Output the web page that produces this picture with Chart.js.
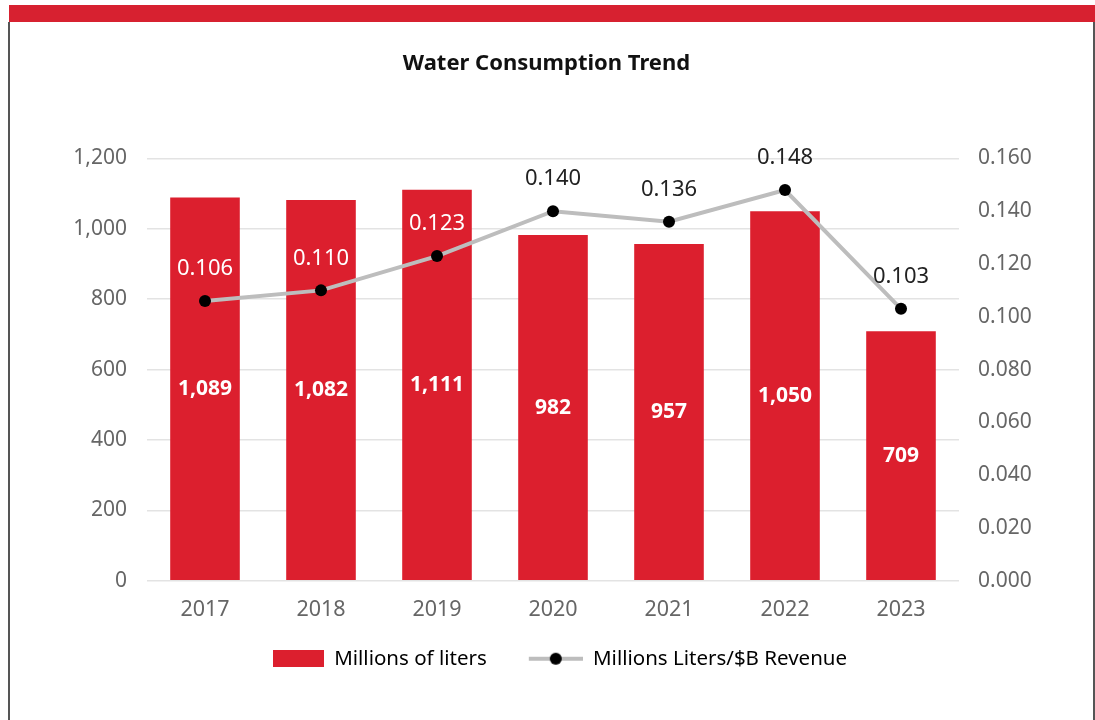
<!DOCTYPE html>
<html>
<head>
<meta charset="utf-8">
<script src="https://cdn.jsdelivr.net/npm/chart.js@4.4.1/dist/chart.umd.min.js"></script>
<style>
  html, body { margin: 0; padding: 0; background: #fff; }
  #frame { position: relative; width: 1095px; height: 720px; overflow: hidden; }
  #topbar { position: absolute; left: 9px; top: 5px; width: 1086px; height: 17px; background: #d72130; }
  #lborder { position: absolute; left: 8px; top: 22px; width: 2px; height: 698px; background: #555; }
  #rborder { position: absolute; left: 1093px; top: 22px; width: 2px; height: 698px; background: #555; }
  #wrap { position: absolute; left: 0; top: 0; width: 1095px; height: 720px; }
</style>
</head>
<body>
<div id="frame">
  <div id="topbar"></div>
  <div id="lborder"></div>
  <div id="rborder"></div>
  <div id="wrap"><canvas id="waterChart"></canvas></div>
</div>
<script>
// data
const years = ['2017', '2018', '2019', '2020', '2021', '2022', '2023'];
const litres = [1089, 1082, 1111, 982, 957, 1050, 709];
const perRevenue = [0.106, 0.110, 0.123, 0.140, 0.136, 0.148, 0.103];
// labels sitting on top of a bar are white, the others dark
const ratioLabelColors = ['#fff', '#fff', '#fff', '#222', '#222', '#222', '#222'];

const RED = '#dc1f2e';
const GREY_LINE = '#bdbdbd';
const FONT = '"Noto Sans", "Open Sans", sans-serif';

// small pictures for the legend, drawn flush right so the gap to the text stays small
const ICON_W = 78;
function makeBoxIcon() {
  const c = document.createElement('canvas');
  c.width = ICON_W; c.height = 17;
  const g = c.getContext('2d');
  g.fillStyle = RED;
  g.fillRect(ICON_W - 51, 0, 51, 17);
  return c;
}
function makeLineIcon() {
  const c = document.createElement('canvas');
  c.width = ICON_W; c.height = 14;
  const g = c.getContext('2d');
  g.strokeStyle = GREY_LINE;
  g.lineWidth = 4;
  g.beginPath(); g.moveTo(ICON_W - 54, 7); g.lineTo(ICON_W, 7); g.stroke();
  g.fillStyle = '#000';
  g.beginPath(); g.arc(ICON_W - 27, 7, 6, 0, Math.PI * 2); g.fill();
  return c;
}
const boxIcon = makeBoxIcon();
const lineIcon = makeLineIcon();

// value labels drawn straight from the datasets
const valueLabels = {
  id: 'valueLabels',
  afterDatasetsDraw(chart) {
    const ctx = chart.ctx;
    ctx.save();
    ctx.textAlign = 'center';
    ctx.textBaseline = 'middle';

    // dataset 1 = bars
    chart.getDatasetMeta(1).data.forEach((bar, i) => {
      ctx.font = 'bold 21px ' + FONT;
      ctx.fillStyle = '#fff';
      ctx.fillText(litres[i].toLocaleString('en-US'), bar.x, (bar.y + bar.base) / 2);
    });

    // dataset 0 = line
    chart.getDatasetMeta(0).data.forEach((pt, i) => {
      ctx.font = '22px ' + FONT;
      ctx.fillStyle = ratioLabelColors[i];
      ctx.fillText(perRevenue[i].toFixed(3), pt.x, pt.y - 32);
    });
    ctx.restore();
  }
};

const ctx = document.getElementById('waterChart').getContext('2d');

const waterChart = new Chart(ctx, {
  data: {
    labels: years,
    datasets: [
      {
        type: 'line',
        label: 'Millions Liters/$B Revenue',
        data: perRevenue,
        yAxisID: 'yRight',
        borderColor: GREY_LINE,
        borderWidth: 4,
        pointRadius: 6,
        pointBackgroundColor: '#000',
        pointBorderColor: '#000',
        pointBorderWidth: 0,
        tension: 0,
        order: 0
      },
      {
        type: 'bar',
        label: 'Millions of liters',
        data: litres,
        yAxisID: 'yLeft',
        backgroundColor: RED,
        categoryPercentage: 0.6,
        barPercentage: 1,
        order: 1
      }
    ]
  },
  plugins: [valueLabels],
  options: {
    responsive: true,
    maintainAspectRatio: false,
    animation: false,
    layout: { padding: { left: 10, right: 12, top: 0, bottom: 41 } },
    plugins: {
      title: {
        display: true,
        text: 'Water Consumption Trend',
        color: '#111',
        font: { family: FONT, size: 22, weight: 'bold' },
        padding: { top: 51, bottom: 81 }
      },
      legend: {
        position: 'bottom',
        reverse: true,
        labels: {
          usePointStyle: true,
          pointStyleWidth: ICON_W,
          boxHeight: 17,
          padding: 18,
          color: '#000',
          font: { family: FONT, size: 20.5 },
          generateLabels(chart) {
            const items = Chart.defaults.plugins.legend.labels.generateLabels(chart);
            items.forEach(item => {
              item.pointStyle = item.datasetIndex === 1 ? boxIcon : lineIcon;
            });
            return items;
          }
        }
      },
      tooltip: { enabled: false }
    },
    scales: {
      x: {
        grid: { display: false },
        border: { display: false },
        ticks: { color: '#666', font: { family: FONT, size: 21.5 }, padding: 8 }
      },
      yLeft: {
        position: 'left',
        min: 0,
        max: 1200,
        afterFit(scale) { scale.width = 137; },
        grid: { color: '#e3e3e3', lineWidth: 1.5, drawTicks: false },
        border: { display: false },
        ticks: {
          stepSize: 200,
          color: '#666',
          padding: 20,
          font: { family: FONT, size: 21 },
          callback: v => v.toLocaleString('en-US')
        }
      },
      yRight: {
        position: 'right',
        min: 0,
        max: 0.16,
        afterFit(scale) { scale.width = 124; },
        grid: { display: false, drawTicks: false },
        border: { display: false },
        ticks: {
          stepSize: 0.02,
          color: '#666',
          padding: 19,
          font: { family: FONT, size: 21 },
          callback: v => v.toFixed(3)
        }
      }
    }
  }
});
</script>
</body>
</html>
